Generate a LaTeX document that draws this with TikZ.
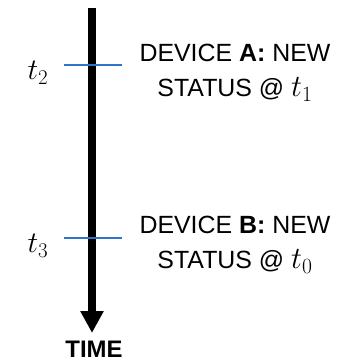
\RequirePackage{fix-cm}
\documentclass[tikz,border=0pt]{standalone}
\usepackage{fontspec}
\setmainfont{Liberation Sans}
\usetikzlibrary{arrows.meta}
\definecolor{tickblue}{RGB}{46,117,200}
\tikzset{
    axis/.style ={line width=8bp, -{Triangle[width=22bp,length=22bp]}},
    tick/.style ={line width=1.6bp, tickblue},
    TL/.style ={inner sep=0pt, font=\fontsize{30}{30}\selectfont},
    ST/.style ={inner sep=0pt, align=center, font=\fontsize{25}{35}\selectfont}}

\begin{document}
\begin{tikzpicture}[x=1bp,y=-1bp]
        \useasboundingbox (0,0) rectangle (358,361);
        \coordinate (top) at (92,8);
        \coordinate (bot) at (92,333);
        \coordinate (a1) at (64,65);
        \coordinate (a2) at (122,65);
        \coordinate (b1) at (64,238);
        \coordinate (b2) at (122,238);
        \node[TL] (t2) at (38,73) {$t_2$};
        \node[TL] (t3) at (38,246) {$t_3$};
        \node[ST] (devA) at (235,73) {DEVICE \textbf{A:} NEW\\STATUS @ {\fontsize{31}{35}\selectfont$t_1$}};
        \node[ST] (devB) at (235,245) {DEVICE \textbf{B:} NEW\\STATUS @ {\fontsize{31}{35}\selectfont$t_0$}};
        \node[ST] (time) at (94,349) {\fontsize{24}{28}\selectfont\textbf{TIME}};
        \draw[axis] (top) -- (bot);
        \draw[tick] (a1) -- (a2);
        \draw[tick] (b1) -- (b2);
    \end{tikzpicture}
\end{document}
